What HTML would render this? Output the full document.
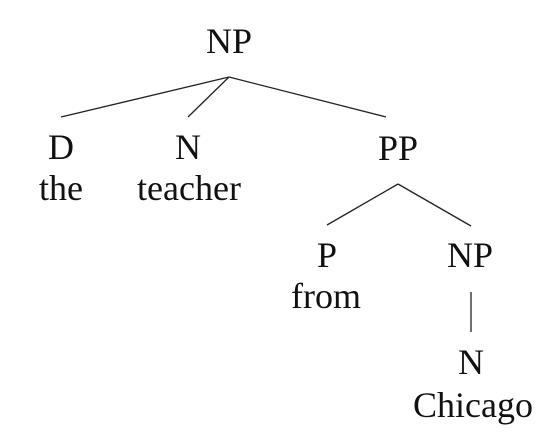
<!DOCTYPE html>
<html><head><meta charset="utf-8"><style>
html,body{margin:0;padding:0;background:#fff;}
svg{display:block}
text{font-family:"Liberation Serif",serif;font-size:36px;fill:#111;text-anchor:middle}
line{stroke:#222;stroke-width:1.3}
</style></head><body>
<svg width="558" height="440" viewBox="0 0 558 440">
<text x="229" y="53">NP</text>
<line x1="229" y1="77" x2="61" y2="117"/>
<line x1="229" y1="77" x2="188" y2="117"/>
<line x1="229" y1="77" x2="386" y2="117"/>
<text x="61" y="159">D</text>
<text x="61" y="200">the</text>
<text x="188" y="159">N</text>
<text x="189" y="200">teacher</text>
<text x="398" y="160">PP</text>
<line x1="398" y1="184" x2="327" y2="225"/>
<line x1="398" y1="184" x2="471" y2="226"/>
<text x="327" y="267">P</text>
<text x="326" y="308">from</text>
<text x="470" y="267">NP</text>
<line x1="471" y1="292" x2="471" y2="332"/>
<text x="471" y="374">N</text>
<text x="473" y="417">Chicago</text>
</svg>
</body></html>
